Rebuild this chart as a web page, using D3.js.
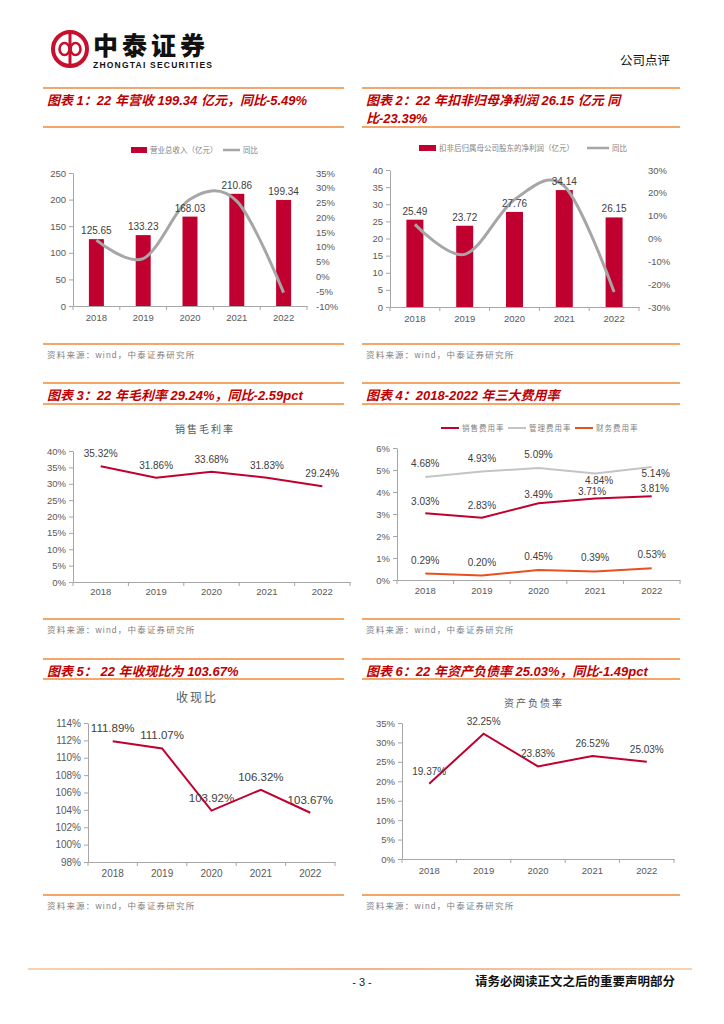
<!DOCTYPE html>
<html>
<head>
<meta charset="utf-8">
<title>中泰证券 公司点评</title>
<script src="https://cdn.jsdelivr.net/npm/d3@7"></script>
<style>
  body { margin: 0; background: #fff; }
</style>
</head>
<body>
<svg id="page" width="724" height="1024"></svg>
<script>
// ---- data ----
var years = ["2018", "2019", "2020", "2021", "2022"];
var revenue = [125.65, 133.23, 168.03, 210.86, 199.34];
var revenueYoY = [12.3, 6.03, 26.12, 25.49, -5.46];
var netProfit = [25.49, 23.72, 27.76, 34.14, 26.15];
var netProfitYoY = [6.2, -6.94, 17.03, 22.98, -23.40];
var grossMargin = [35.32, 31.86, 33.68, 31.83, 29.24];
var sellingRate = [3.03, 2.83, 3.49, 3.71, 3.81];
var adminRate = [4.68, 4.93, 5.09, 4.84, 5.14];
var financeRate = [0.29, 0.20, 0.45, 0.39, 0.53];
var cashRatio = [111.89, 111.07, 103.92, 106.32, 103.67];
var debtRatio = [19.37, 32.25, 23.83, 26.52, 25.03];

var revTicks = [0, 50, 100, 150, 200, 250];
var revYoYTicks = [-10, -5, 0, 5, 10, 15, 20, 25, 30, 35];
var profitTicks = [0, 5, 10, 15, 20, 25, 30, 35, 40];
var profitYoYTicks = [-30, -20, -10, 0, 10, 20, 30];
var marginTicks = [0, 5, 10, 15, 20, 25, 30, 35, 40];
var rateTicks = [0, 1, 2, 3, 4, 5, 6];
var cashTicks = [98, 100, 102, 104, 106, 108, 110, 112, 114];
var debtTicks = [0, 5, 10, 15, 20, 25, 30, 35];

var titles = [
  ["图表 1：22 年营收 199.34 亿元，同比-5.49%"],
  ["图表 2：22 年扣非归母净利润 26.15 亿元  同", "比-23.39%"],
  ["图表 3：22 年毛利率 29.24%，同比-2.59pct"],
  ["图表 4：2018-2022 年三大费用率"],
  ["图表 5：  22 年收现比为 103.67%"],
  ["图表 6：22 年资产负债率 25.03%，同比-1.49pct"]
];
var sourceText = "资料来源：wind，中泰证券研究所";

// ---- styling ----
var RED = "#c0002f", TITLE_RED = "#c00000", ORANGE = "#f28a3a";
var AXIS = "#a6a6a6", TXT = "#595959", LBL = "#404040";
var GRAY_LINE = "#a6a6a6", ADMIN = "#c4c4c4", FIN = "#e8501e";
var FONT = "'Liberation Sans', Arial, 'Noto Sans CJK SC', sans-serif";
var CJK = "'Noto Sans CJK SC', sans-serif";

var svg = d3.select("#page");

// ---- page header ----
var logo = svg.append("g");
logo.append("circle").attr("cx", 70).attr("cy", 49).attr("r", 17)
  .attr("fill", "none").attr("stroke", "#c8102e").attr("stroke-width", 4);
logo.append("ellipse").attr("cx", 64.5).attr("cy", 49).attr("rx", 5).attr("ry", 6)
  .attr("fill", "none").attr("stroke", "#c8102e").attr("stroke-width", 2.6);
logo.append("ellipse").attr("cx", 75.5).attr("cy", 49).attr("rx", 5).attr("ry", 6)
  .attr("fill", "none").attr("stroke", "#c8102e").attr("stroke-width", 2.6);
logo.append("line").attr("x1", 70).attr("x2", 70).attr("y1", 34).attr("y2", 64)
  .attr("stroke", "#c8102e").attr("stroke-width", 3);
svg.append("text").attr("x", 93).attr("y", 55).text("中泰证券")
  .attr("font-family", CJK).attr("font-weight", 900).attr("font-size", 25)
  .attr("letter-spacing", 4).attr("fill", "#111");
svg.append("text").attr("x", 93).attr("y", 68).text("ZHONGTAI SECURITIES")
  .attr("font-family", FONT).attr("font-weight", "bold").attr("font-size", 8.5)
  .attr("textLength", 119).attr("fill", "#111");
svg.append("text").attr("x", 670).attr("y", 65).attr("text-anchor", "end").text("公司点评")
  .attr("font-family", CJK).attr("font-size", 12.5).attr("fill", "#111");

// ---- footer ----
var grad = svg.append("defs").append("linearGradient").attr("id", "foot");
grad.append("stop").attr("offset", "0%").attr("stop-color", "#f7d2b6");
grad.append("stop").attr("offset", "50%").attr("stop-color", "#f1b48a");
grad.append("stop").attr("offset", "100%").attr("stop-color", "#f7d2b6");
svg.append("rect").attr("x", 28).attr("y", 968).attr("width", 664).attr("height", 2).attr("fill", "url(#foot)");
svg.append("text").attr("x", 362).attr("y", 986).attr("text-anchor", "middle").text("- 3 -")
  .attr("font-family", FONT).attr("font-size", 11).attr("fill", "#222");
svg.append("text").attr("x", 675).attr("y", 986).attr("text-anchor", "end").text("请务必阅读正文之后的重要声明部分")
  .attr("font-family", CJK).attr("font-weight", "bold").attr("font-size", 12.5).attr("fill", "#111");

// ---- panel furniture ----
function panelHead(x0, x1, yTop, yBottom, lines) {
  svg.append("line").attr("x1", x0).attr("x2", x1).attr("y1", yTop).attr("y2", yTop)
    .attr("stroke", ORANGE).attr("stroke-width", 1.5);
  svg.append("line").attr("x1", x0).attr("x2", x1).attr("y1", yBottom).attr("y2", yBottom)
    .attr("stroke", ORANGE).attr("stroke-width", 1.5);
  lines.forEach(function(t, i) {
    svg.append("text").attr("x", x0 + 4).attr("y", yTop + 17 + i * 18).text(t)
      .attr("font-family", FONT).attr("font-weight", "bold").attr("font-style", "italic")
      .attr("font-size", 13).attr("fill", TITLE_RED);
  });
}
function source(x0, x1, yLine) {
  svg.append("line").attr("x1", x0).attr("x2", x1).attr("y1", yLine).attr("y2", yLine)
    .attr("stroke", ORANGE).attr("stroke-width", 1.5);
  svg.append("text").attr("x", x0 + 4).attr("y", yLine + 14).text(sourceText)
    .attr("font-family", FONT).attr("font-size", 8.5).attr("letter-spacing", 1.2).attr("fill", "#808080");
}

panelHead(43, 344, 88, 127, titles[0]);
panelHead(362, 680, 88, 127, titles[1]);
source(43, 344, 344);
source(362, 680, 344);
panelHead(43, 344, 383, 404, titles[2]);
panelHead(362, 680, 383, 404, titles[3]);
source(43, 344, 619);
source(362, 680, 619);
panelHead(43, 344, 659, 679, titles[4]);
panelHead(362, 680, 659, 679, titles[5]);
source(43, 344, 895);
source(362, 680, 895);

// ---- axes helpers ----
function styleAxis(sel, fs) {
  sel.selectAll("path.domain").attr("stroke", AXIS);
  sel.selectAll(".tick line").attr("stroke", AXIS);
  sel.selectAll(".tick text").attr("fill", TXT).attr("font-size", fs).attr("font-family", FONT);
}
function drawAxes(g, x, y, ticks, fmt, fs, pad) {
  var x0 = x.range()[0], yb = y.range()[0];
  var ya = g.append("g").attr("transform", "translate(" + x0 + ",0)")
    .call(d3.axisLeft(y).tickValues(ticks).tickFormat(fmt).tickSize(4).tickPadding(3).tickSizeOuter(0));
  styleAxis(ya, fs);
  var xa = g.append("g").attr("transform", "translate(0," + yb + ")")
    .call(d3.axisBottom(x).tickSize(0).tickPadding(pad || 7).tickSizeOuter(0));
  styleAxis(xa, fs);
  xa.selectAll("line.sep").data(d3.range(x.domain().length + 1)).join("line").attr("class", "sep")
    .attr("x1", function(i) { return x0 + i * x.step(); })
    .attr("x2", function(i) { return x0 + i * x.step(); })
    .attr("y1", 0).attr("y2", 4).attr("stroke", AXIS);
}
function cx(x, d) { return x(d) + x.bandwidth() / 2; }
var pct = function(d) { return d + "%"; };

// ---- bar + yoy combo ----
function comboChart(c) {
  var g = svg.append("g");
  var x = d3.scaleBand().domain(years).range([c.left, c.right]);
  var yL = d3.scaleLinear().domain(d3.extent(c.ticksL)).range([c.bottom, c.top]);
  var yR = d3.scaleLinear().domain(d3.extent(c.ticksR)).range([c.bottom, c.top]);
  g.selectAll("rect.bar").data(c.bars).join("rect").attr("class", "bar")
    .attr("x", function(d, i) { return cx(x, years[i]) - c.barW / 2; })
    .attr("width", c.barW)
    .attr("y", function(d) { return yL(d); })
    .attr("height", function(d) { return yL(0) - yL(d); })
    .attr("fill", RED);
  drawAxes(g, x, yL, c.ticksL, d3.format("d"), 9.5, 8);
  var ra = g.append("g").attr("transform", "translate(" + c.right + ",0)")
    .call(d3.axisRight(yR).tickValues(c.ticksR).tickFormat(pct).tickSize(0).tickPadding(9));
  ra.select("path.domain").remove();
  styleAxis(ra, 9.5);
  g.append("path").datum(c.yoy)
    .attr("d", d3.line().x(function(d, i) { return cx(x, years[i]); }).y(function(d) { return yR(d); })
      .curve(d3.curveCardinal.tension(0)))
    .attr("fill", "none").attr("stroke", GRAY_LINE).attr("stroke-width", 3);
  g.selectAll("text.vl").data(c.bars).join("text").attr("class", "vl")
    .attr("x", function(d, i) { return cx(x, years[i]); })
    .attr("y", function(d) { return yL(d) - 5; })
    .attr("text-anchor", "middle").text(function(d) { return d.toFixed(2); })
    .attr("font-family", FONT).attr("font-size", 10).attr("fill", LBL);
  // legend
  var lg = g.append("g");
  lg.append("rect").attr("x", c.leg[0]).attr("y", c.legY - 3).attr("width", c.leg[1]).attr("height", 6).attr("fill", RED);
  lg.append("text").attr("x", c.leg[0] + c.leg[1] + 3).attr("y", c.legY + 3).text(c.barName)
    .attr("font-family", CJK).attr("font-size", 7.5).attr("fill", "#7f7f7f");
  lg.append("line").attr("x1", c.leg[2]).attr("x2", c.leg[2] + c.leg[3]).attr("y1", c.legY).attr("y2", c.legY)
    .attr("stroke", GRAY_LINE).attr("stroke-width", 2.5);
  lg.append("text").attr("x", c.leg[2] + c.leg[3] + 3).attr("y", c.legY + 3).text("同比")
    .attr("font-family", CJK).attr("font-size", 7.5).attr("fill", "#7f7f7f");
}

comboChart({ left: 73, right: 307, top: 173, bottom: 306, barW: 15,
  bars: revenue, yoy: revenueYoY, ticksL: revTicks, ticksR: revYoYTicks,
  barName: "营业总收入（亿元）", legY: 150, leg: [131, 16, 223, 17] });
comboChart({ left: 390, right: 639, top: 170, bottom: 307, barW: 17,
  bars: netProfit, yoy: netProfitYoY, ticksL: profitTicks, ticksR: profitYoYTicks,
  barName: "扣非后归属母公司股东的净利润（亿元）", legY: 148, leg: [419, 17, 587, 22] });

// ---- line charts ----
function lineChart(c) {
  var g = svg.append("g");
  var x = d3.scaleBand().domain(years).range([c.left, c.right]);
  var y = d3.scaleLinear().domain(d3.extent(c.ticks)).range([c.bottom, c.top]);
  drawAxes(g, x, y, c.ticks, pct, c.fs, c.pad);
  if (c.title) {
    g.append("text").attr("x", c.titleX).attr("y", c.titleY).attr("text-anchor", "middle").text(c.title)
      .attr("font-family", CJK).attr("font-size", c.titleFs).attr("letter-spacing", 2).attr("fill", TXT);
  }
  c.series.forEach(function(s) {
    g.append("path").datum(s.values)
      .attr("d", d3.line().x(function(d, i) { return cx(x, years[i]); }).y(function(d) { return y(d); }))
      .attr("fill", "none").attr("stroke", s.color).attr("stroke-width", s.width);
    g.selectAll(null).data(s.values).join("text")
      .attr("x", function(d, i) { return cx(x, years[i]) + (s.dx ? s.dx[i] : 0); })
      .attr("y", function(d, i) {
        if (s.below && s.below[i]) return y(d) + 10.5;
        return y(d) - (Array.isArray(s.lift) ? s.lift[i] : s.lift);
      })
      .attr("text-anchor", "middle").text(function(d) { return d.toFixed(2) + "%"; })
      .attr("font-family", FONT).attr("font-size", c.lfs).attr("fill", LBL);
  });
  if (c.legend) {
    c.legend.forEach(function(l, i) {
      var lx = c.legendX[i];
      g.append("line").attr("x1", lx).attr("x2", lx + 18).attr("y1", c.legendY).attr("y2", c.legendY)
        .attr("stroke", c.series[i].color).attr("stroke-width", 2);
      g.append("text").attr("x", lx + 21).attr("y", c.legendY + 3).text(l)
        .attr("font-family", CJK).attr("font-size", 7.5).attr("letter-spacing", 1).attr("fill", "#7f7f7f");
    });
  }
}

lineChart({ left: 73, right: 350, top: 451, bottom: 582, ticks: marginTicks, fs: 9.5, lfs: 10, pad: 6,
  title: "销售毛利率", titleX: 205, titleY: 433, titleFs: 10,
  series: [{ values: grossMargin, color: RED, width: 2, lift: 9 }] });

lineChart({ left: 397, right: 680, top: 448, bottom: 580, ticks: rateTicks, fs: 9.5, lfs: 10,
  legend: ["销售费用率", "管理费用率", "财务费用率"], legendX: [441, 508, 575], legendY: 428,
  series: [
    { values: sellingRate, color: RED, width: 2, lift: [8.5, 8.5, 5.5, 3, 4], dx: [0, 0, 0, -3, 3] },
    { values: adminRate, color: ADMIN, width: 2, lift: 10, below: [0, 0, 0, 1, 1], dx: [0, 0, 0, 4, 4] },
    { values: financeRate, color: FIN, width: 2, lift: 10 }
  ] });

lineChart({ left: 88, right: 335, top: 723, bottom: 862, ticks: cashTicks, fs: 10, lfs: 11.5, pad: 8,
  title: "收现比", titleX: 197, titleY: 702, titleFs: 12,
  series: [{ values: cashRatio, color: RED, width: 2, lift: 9 }] });

lineChart({ left: 402, right: 674, top: 723, bottom: 859, ticks: debtTicks, fs: 9.5, lfs: 10, pad: 8,
  title: "资产负债率", titleX: 534, titleY: 707, titleFs: 10,
  series: [{ values: debtRatio, color: RED, width: 2, lift: 9 }] });
</script>
</body>
</html>
